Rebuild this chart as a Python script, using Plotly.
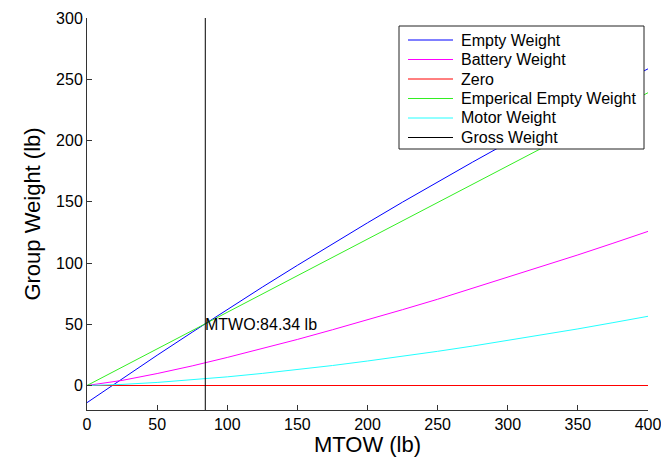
import plotly.graph_objects as go

mtow = [0, 25, 50, 75, 100, 125, 150, 175, 200, 225, 250, 275, 300, 325, 350, 375, 400]
empty_weight = [-14.0, 5.5, 24.7, 43.5, 62.1, 80.3, 98.1, 115.6, 132.8, 149.7, 166.2, 182.4, 198.3, 213.9, 229.1, 243.9, 258.5]
battery_weight = [0.0, 4.15, 9.75, 16.0, 22.9, 30.1, 37.6, 45.5, 53.5, 61.9, 70.4, 79.3, 88.2, 97.3, 106.6, 116.1, 125.8]
zero_line = [0] * 17
empirical_empty = [0.0, 14.9, 29.9, 44.8, 59.8, 74.7, 89.6, 104.6, 119.5, 134.4, 149.4, 164.3, 179.3, 194.2, 209.1, 224.1, 239.0]
motor_weight = [0.0, 0.88, 2.5, 4.59, 7.06, 9.87, 12.97, 16.3, 20.0, 23.8, 27.9, 32.2, 36.7, 41.4, 46.2, 51.3, 56.5]
gross_x = [84.34, 84.34]
gross_y = [-20, 300]
mtwo_label = "MTWO:84.34 lb"
mtwo_point = (84.34, 50)

series_names = ["Empty Weight", "Battery Weight", "Zero", "Emperical Empty Weight",
                "Motor Weight", "Gross Weight"]
series_colors = ["#0000FF", "#FF00FF", "#FF0000", "#33EE22", "#22FFFF", "#000000"]

x_ticks = [0, 50, 100, 150, 200, 250, 300, 350, 400]
y_ticks = [0, 50, 100, 150, 200, 250, 300]

FONT = "Liberation Sans, Arial, Helvetica, sans-serif"

# figure geometry (body margin removed by post_script)
W, H = 661, 457
ML, MR, MT, MB = 87, 13, 18, 47
PW, PH = W - ML - MR, H - MT - MB


def px(x):
    return (x - ML) / PW


def py(y):
    return (H - MB - y) / PH


fig = go.Figure()
series_x = [mtow, mtow, mtow, mtow, mtow, gross_x]
series_y = [empty_weight, battery_weight, zero_line, empirical_empty, motor_weight, gross_y]
for name, xs, ys, col in zip(series_names, series_x, series_y, series_colors):
    fig.add_trace(go.Scatter(x=xs, y=ys, mode="lines", name=name, showlegend=False,
                             line=dict(color=col, width=1)))

fig.add_annotation(x=mtwo_point[0], y=mtwo_point[1], text=mtwo_label,
                   showarrow=False, xanchor="left", yanchor="middle",
                   xshift=-2, font=dict(size=16, color="black", family=FONT))

# legend box (drawn in paper coordinates)
box_l, box_r, box_t, box_b = 399, 644, 26, 149
fig.add_shape(type="rect", xref="paper", yref="paper",
              x0=px(box_l), x1=px(box_r), y0=py(box_b), y1=py(box_t),
              line=dict(color="#222222", width=1), fillcolor="white", layer="above")
for i, (name, col) in enumerate(zip(series_names, series_colors)):
    yc = 40 + 19.5 * i
    fig.add_shape(type="line", xref="paper", yref="paper",
                  x0=px(408), x1=px(453), y0=py(yc), y1=py(yc),
                  line=dict(color=col, width=1), layer="above")
    fig.add_annotation(xref="paper", yref="paper", x=px(459), y=py(yc), text=name,
                       showarrow=False, xanchor="left", yanchor="middle",
                       font=dict(size=16, color="black", family=FONT))

axis_common = dict(showline=True, linecolor="#333333", linewidth=1, mirror=False,
                   ticks="inside", ticklen=5, tickcolor="#333333", showgrid=False,
                   zeroline=False, automargin=False, ticklabeloverflow="allow",
                   tickfont=dict(size=16, color="black", family=FONT))

fig.update_layout(
    width=W, height=H,
    margin=dict(l=ML, r=MR, t=MT, b=MB),
    paper_bgcolor="white", plot_bgcolor="white",
    font=dict(family=FONT, color="black"),
    xaxis=dict(range=[0, 400], tickvals=x_ticks, **axis_common,
               title=dict(text="MTOW (lb)", font=dict(size=22), standoff=12)),
    yaxis=dict(range=[-20, 300], tickvals=y_ticks, **axis_common,
               title=dict(text="Group Weight (lb)", font=dict(size=22), standoff=9)),
    showlegend=False,
)

fig.write_html("out.html",
               config={"displayModeBar": False},
               post_script="document.body.style.margin='0';"
                           "document.body.style.overflow='hidden';")
